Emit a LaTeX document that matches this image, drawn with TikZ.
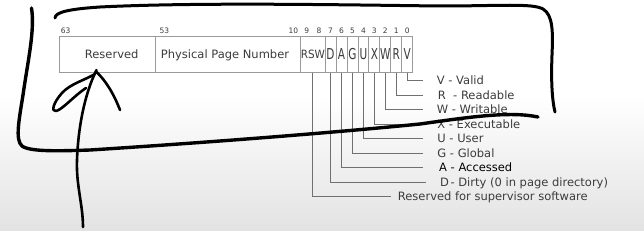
\documentclass[tikz,border=0pt]{standalone}
\usepackage{fontspec}
\setmainfont{DejaVu Sans}
\definecolor{boxgray}{HTML}{9A9A9A}
\definecolor{linegray}{HTML}{707070}
\definecolor{txt}{HTML}{3C3C3C}
\newcommand{\bitglyph}[1]{\scalebox{0.7}[1]{#1}}
\tikzset{
  cell/.style={draw=boxgray, line width=0.8pt, inner sep=0pt, outer sep=0pt, minimum height=36.7pt},
  bitcell/.style={cell, minimum width=10.97pt},
  boxtxt/.style={font=\fontsize{11.5}{13}\selectfont, text=txt, inner sep=0pt, anchor=base},
  bitltr/.style={font=\fontsize{15}{16}\selectfont, text=txt, inner sep=0pt, anchor=base},
  bitnum/.style={font=\fontsize{7.5}{8}\selectfont, text=txt, inner sep=0pt, anchor=base},
  lbl/.style={font=\fontsize{11.5}{13}\selectfont, text=txt, inner sep=0pt, anchor=base west},
  conn/.style={draw=linegray, line width=0.8pt},
  ink/.style={draw=black, line width=3pt, line cap=round, line join=round}
}
\begin{document}
\begin{tikzpicture}[x=1pt,y=-1pt]
\useasboundingbox (0,0) rectangle (644,230);
\fill[white] (0,0) rectangle (644,230);
\shade[top color=white, bottom color=black!11] (0,95) rectangle (644,230);

% register cells
\node[cell, minimum width=95.7pt]  (res) at (107.15,54.35) {};
\node[cell, minimum width=145.7pt] (ppn) at (227.85,54.35) {};
\node[cell, minimum width=24.3pt]  (rsw) at (312.85,54.35) {};
\node[bitcell] (D) at (330.49,54.35) {};
\node[bitcell] (A) at (341.46,54.35) {};
\node[bitcell] (G) at (352.43,54.35) {};
\node[bitcell] (U) at (363.40,54.35) {};
\node[bitcell] (X) at (374.37,54.35) {};
\node[bitcell] (W) at (385.34,54.35) {};
\node[bitcell] (R) at (396.31,54.35) {};
\node[bitcell] (V) at (407.28,54.35) {};

% cell texts
\node[boxtxt] (tres) at (111.7,58.3) {Reserved};
\node[boxtxt] (tppn) at (225.0,58.3) {Physical Page Number};
\node[boxtxt, font=\fontsize{11.4}{13}\selectfont] (trsw) at (312.85,58.6) {\scalebox{0.91}[1]{RSW}};
\node[bitltr] (tD) at (330.49,59.3) {\bitglyph{D}};
\node[bitltr] (tA) at (341.46,59.3) {\bitglyph{A}};
\node[bitltr] (tG) at (352.43,59.3) {\bitglyph{G}};
\node[bitltr] (tU) at (363.40,59.3) {\bitglyph{U}};
\node[bitltr] (tX) at (374.37,59.3) {\bitglyph{X}};
\node[bitltr] (tW) at (385.34,59.3) {\bitglyph{W}};
\node[bitltr] (tR) at (396.31,59.3) {\bitglyph{R}};
\node[bitltr] (tV) at (407.28,59.3) {\bitglyph{V}};

% bit numbers
\node[bitnum, anchor=base west] (n63) at (60.7,34) {63};
\node[bitnum, anchor=base west] (n53) at (159.3,34) {53};
\node[bitnum, anchor=base east] (n10) at (298.3,34) {10};
\node[bitnum] (n9) at (306.8,34) {9};
\node[bitnum] (n8) at (319.0,34) {8};
\node[bitnum] (n7) at (330.49,34) {7};
\node[bitnum] (n6) at (341.46,34) {6};
\node[bitnum] (n5) at (352.43,34) {5};
\node[bitnum] (n4) at (363.40,34) {4};
\node[bitnum] (n3) at (374.37,34) {3};
\node[bitnum] (n2) at (385.34,34) {2};
\node[bitnum] (n1) at (396.31,34) {1};
\node[bitnum] (n0) at (407.28,34) {0};

% connector end points
\coordinate (eV) at (423.3,80.7);
\coordinate (eR) at (423.3,95.2);
\coordinate (eW) at (423.3,109.7);
\coordinate (eX) at (423.3,124.2);
\coordinate (eU) at (423.3,138.7);
\coordinate (eG) at (423.3,153.2);
\coordinate (eA) at (423.3,167.7);
\coordinate (eD) at (426.0,182.2);
\coordinate (eRSW) at (390.7,196.7);

\draw[conn] (V.south) |- (eV);
\draw[conn] (R.south) |- (eR);
\draw[conn] (W.south) |- (eW);
\draw[conn] (X.south) |- (eX);
\draw[conn] (U.south) |- (eU);
\draw[conn] (G.south) |- (eG);
\draw[conn] (A.south) |- (eA);
\draw[conn] (D.south) |- (eD);
\draw[conn] (rsw.south) |- (eRSW);

% legend labels
\node[lbl] (lV) at (436.7,84.9) {V - Valid};
\node[lbl] (lR) at (437.7,99.4) {R\ \ - Readable};
\node[lbl] (lW) at (436.7,113.9) {W - Writable};
\node[lbl] (lX) at (437.2,128.4) {X - Executable};
\node[lbl] (lU) at (437.2,142.9) {U - User};
\node[lbl] (lG) at (437.2,157.4) {G - Global};
\node[lbl, text=black] (lA) at (439.0,171.9) {A - Accessed};
\node[lbl] (lD) at (440.0,186.4) {D\kern1.5pt- Dirty (0 in page directory)};
\node[lbl] (lRSW) at (397.7,200.9) {Reserved for supervisor software};

% hand-drawn annotations
\draw[ink] (55,18) .. controls (55,12) and (70,9) .. (100,7)
  .. controls (200,2) and (350,5) .. (440,6)
  .. controls (500,6) and (532,3) .. (543,9)
  .. controls (553,15) and (553,32) .. (552,55)
  .. controls (551,80) and (552,100) .. (555,112);
\draw[ink, line width=3.4pt] (31.5,8) .. controls (35,30) and (28,60) .. (23,95)
  .. controls (19,120) and (15,140) .. (22,146)
  .. controls (30,152) and (60,151) .. (90,150)
  .. controls (200,143) and (330,133) .. (420,124)
  .. controls (470,117) and (510,111) .. (538,117);
\draw[ink, line width=2.6pt] (83,227) .. controls (83,205) and (76,185) .. (77,160)
  .. controls (78,130) and (84,95) .. (96.5,70);
\draw[ink, line width=2.6pt] (96.5,72) .. controls (105,80) and (113,92) .. (120,110);
\draw[ink, line width=2.6pt] (95,74) .. controls (85,80) and (70,84) .. (62,93)
  .. controls (53,103) and (51,112) .. (56,111)
  .. controls (62,110) and (75,95) .. (86,88);
\end{tikzpicture}
\end{document}
